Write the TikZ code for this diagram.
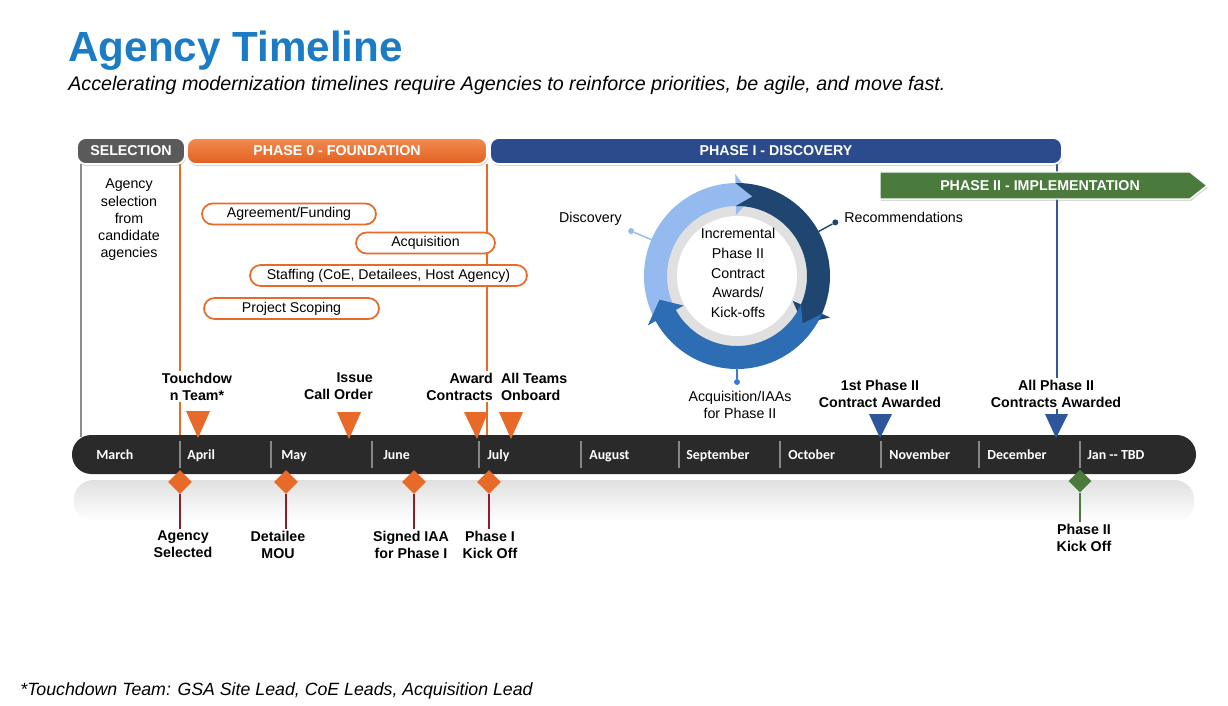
\documentclass[tikz,border=0pt]{standalone}
\usepackage{fontspec}
\setmainfont{Liberation Sans}
\newfontfamily\monthfont{Carlito}
\usetikzlibrary{shapes.geometric,shadows,calc}

\definecolor{titleblue}{RGB}{27,123,196}
\definecolor{orangeC}{RGB}{232,106,40}
\definecolor{orangeTop}{RGB}{242,140,82}
\definecolor{orangeBot}{RGB}{226,96,30}
\definecolor{selgray}{RGB}{90,90,90}
\definecolor{pblue}{RGB}{43,75,140}
\definecolor{pgreen}{RGB}{74,122,60}
\definecolor{ringlight}{RGB}{148,186,240}
\definecolor{ringnavy}{RGB}{31,70,112}
\definecolor{ringmid}{RGB}{44,109,179}
\definecolor{diskgray}{RGB}{224,224,224}
\definecolor{barC}{RGB}{42,42,42}
\definecolor{divC}{RGB}{135,135,135}
\definecolor{stemred}{RGB}{143,29,44}
\definecolor{trib}{RGB}{47,85,156}
\definecolor{callmid}{RGB}{58,120,220}
\definecolor{vgray}{RGB}{140,140,140}

\newcommand\ringseg[3]{%
  \fill[#1] ($(C)+(#2:93)$) arc[start angle=#2, end angle=#3, radius=93]
    -- ($(C)+(#3:102)$) -- ($(C)+(#3+12:81)$) -- ($(C)+(#3:61)$)
    -- ($(C)+(#3:70)$) arc[start angle=#3, end angle=#2, radius=70]
    -- ($(C)+(#2+12:81)$) -- cycle;}

\begin{document}
\begin{tikzpicture}[x=0.02cm,y=-0.02cm,
  phasebar/.style={rounded corners=5pt, draw=white, line width=1pt, text=white,
     font=\bfseries\fontsize{8.1}{10}\selectfont, minimum height=0.52cm, inner sep=0pt,
     drop shadow={opacity=0.3, shadow xshift=0.5pt, shadow yshift=-1.2pt}},
  pill/.style={draw=orangeC, line width=1pt, fill=white, rounded corners=6pt,
     minimum height=0.42cm, inner sep=0pt, font=\fontsize{8.05}{10}\selectfont},
  body/.style={font=\fontsize{8.1}{9.8}\selectfont, align=center, inner sep=0pt},
  ms/.style={font=\bfseries\fontsize{8.1}{9.6}\selectfont, fill=white, inner sep=1pt},
  month/.style={font=\monthfont\bfseries\fontsize{7.9}{9}\selectfont, text=white, anchor=base west, inner sep=0pt},
  divline/.style={draw=divC, line width=0.8pt},
  otri/.style={fill=orangeC},
  btri/.style={fill=trib},
  odia/.style={diamond, fill=orangeC, minimum size=0.48cm, inner sep=0pt},
  gdia/.style={diamond, fill=pgreen, minimum size=0.46cm, inner sep=0pt},
  stem/.style={draw=stemred, line width=0.7pt},
  callout/.style={line width=0.8pt},
  cdot/.style={circle, inner sep=0pt, minimum size=0.12cm}
]
\useasboundingbox (0,0) rectangle (1228,706);

% title
\node[anchor=base west, inner sep=0pt, text=titleblue, font=\bfseries\fontsize{24}{28}\selectfont] (title) at (68,62) {Agency Timeline};
\node[anchor=base west, inner sep=0pt, font=\itshape\fontsize{11.2}{13}\selectfont] (subtitle) at (68,91) {Accelerating modernization timelines require Agencies to reinforce priorities, be agile, and move fast.};

% vertical phase lines
\coordinate (vg1) at (81,164); \coordinate (vg2) at (81,437);
\coordinate (vo1) at (180,164); \coordinate (vo2) at (180,437);
\coordinate (vo3) at (487,164); \coordinate (vo4) at (487,437);
\coordinate (vb1) at (1057,164); \coordinate (vb2) at (1057,414);
\draw[vgray, line width=1pt] (vg1) -- (vg2);
\draw[orangeC, line width=1.2pt] (vo1) -- (vo2);
\draw[orangeC, line width=1.2pt] (vo3) -- (vo4);
\draw[trib, line width=1.2pt] (vb1) -- (vb2);

% phase bars
\node[phasebar, fill=selgray, minimum width=2.16cm] (sel) at (131,151) {SELECTION};
\node[phasebar, top color=orangeTop, bottom color=orangeBot, minimum width=6cm] (p0) at (337,151) {PHASE 0 - FOUNDATION};
\node[phasebar, fill=pblue, minimum width=11.44cm] (p1) at (776,151) {PHASE I - DISCOVERY};
\fill[pgreen, draw=white, line width=0.8pt, drop shadow={opacity=0.3, shadow xshift=0.5pt, shadow yshift=-1.2pt}]
  (880,172) -- (1190,172) -- (1207,185.5) -- (1190,199) -- (880,199) -- cycle;
\node[text=white, font=\bfseries\fontsize{8.1}{10}\selectfont, inner sep=0pt] (p2) at (1040,185.5) {PHASE II - IMPLEMENTATION};

% selection text
\node[body] (seltext) at (129,220) {Agency\\selection\\from\\candidate\\agencies};

% pills
\node[pill, minimum width=3.48cm] (pa) at (289,214) {Agreement/Funding};
\node[pill, minimum width=2.78cm] (pb) at (425.5,243) {Acquisition};
\node[pill, minimum width=5.54cm] (pc) at (388.5,275.5) {Staffing (CoE, Detailees, Host Agency)};
\node[pill, minimum width=3.5cm] (pd) at (291.5,308.5) {Project Scoping};

% ring
\coordinate (C) at (737,276);
\fill[diskgray] (C) circle[radius=75];
\fill[white] (C) circle[radius=60];
\ringseg{ringlight}{-209}{-91}
\ringseg{ringnavy}{-91}{24}
\ringseg{ringmid}{24}{151}
\node[body, font=\fontsize{8.1}{11.3}\selectfont] (center) at (738,273) {Incremental\\Phase II\\Contract\\Awards/\\Kick-offs};

% callouts
\node[cdot, fill=ringlight] (dd) at ($(C)+(-157:115)$) {};
\coordinate (rd) at ($(C)+(-157:92)$);
\draw[callout, ringlight] (dd) -- (rd);
\node[body, anchor=east] (disc) at (622,219) {Discovery};

\node[cdot, fill=ringnavy] (dr) at ($(C)+(-28.6:112)$) {};
\coordinate (rr) at ($(C)+(-28.6:92)$);
\draw[callout, ringnavy] (dr) -- (rr);
\node[body, anchor=west] (rec) at (844,217) {Recommendations};

\node[cdot, fill=callmid] (da) at ($(C)+(90:106)$) {};
\coordinate (ra) at ($(C)+(90:92)$);
\draw[callout, callmid] (da) -- (ra);
\node[body] (acq) at (740,405) {Acquisition/IAAs\\for Phase II};

% reflection & bar
\shade[top color=black!12, bottom color=white, rounded corners=11pt] (74,480) rectangle (1194,522);
\fill[barC, rounded corners=11pt] (72,435) rectangle (1196,474);
\foreach \x in {180,271,372,479,581,679,780,881,979,1080}
  \draw[divline] (\x,441) -- (\x,468);
\node[month] (m1) at (96,459) {March};
\node[month] (m2) at (187,459) {April};
\node[month] (m3) at (281,459) {May};
\node[month] (m4) at (383,459) {June};
\node[month] (m5) at (487,459) {July};
\node[month] (m6) at (589,459) {August};
\node[month] (m7) at (686,459) {September};
\node[month] (m8) at (788,459) {October};
\node[month] (m9) at (889,459) {November};
\node[month] (m10) at (987,459) {December};
\node[month] (m11) at (1087,459) {Jan -{}- TBD};

% triangles above
\fill[otri] (186,411) -- (210,411) -- (198,438) -- cycle;
\fill[otri] (337,412) -- (361,412) -- (349,439) -- cycle;
\fill[otri] (464,412) -- (488,412) -- (477,439) -- cycle;
\fill[otri] (499,412) -- (523,412) -- (511,439) -- cycle;
\fill[btri] (869,414) -- (892,414) -- (880,438) -- cycle;
\fill[btri] (1045,414) -- (1068,414) -- (1056,438) -- cycle;

% labels above
\node[ms, align=center] (lt) at (197,386.5) {Touchdow\\n Team*};
\node[ms, align=right, anchor=east] (li) at (375,386.5) {Issue\\Call Order};
\node[ms, align=right, anchor=east] (law) at (495,386.5) {Award\\Contracts};
\node[ms, align=left, anchor=west] (lal) at (499,386.5) {All Teams\\Onboard};
\node[ms, align=center] (l1p2) at (880,393.5) {1st Phase II\\Contract Awarded};
\node[ms, align=center] (lap2) at (1056,393.5) {All Phase II\\Contracts Awarded};

% diamonds and stems
\node[ms, align=center] (bA) at (183,544.5) {Agency\\Selected};
\node[ms, align=center] (bD) at (278,544.5) {Detailee\\MOU};
\node[ms, align=center] (bS) at (411,544.5) {Signed IAA\\for Phase I};
\node[ms, align=center] (bP) at (490,544.5) {Phase I\\Kick Off};
\node[ms, align=center] (bG) at (1084,537.5) {Phase II\\Kick Off};
\node[odia] (dA) at (180,482) {};
\node[odia] (dD) at (286,482) {};
\node[odia] (dS) at (414,482) {};
\node[odia] (dP) at (489,482) {};
\node[gdia] (dG) at (1080,481) {};
\draw[stem] (dA.south) -- (dA.south |- bA.north);
\draw[stem] (dD.south) -- (dD.south |- bD.north);
\draw[stem] (dS.south) -- (dS.south |- bS.north);
\draw[stem] (dP.south) -- (dP.south |- bP.north);
\draw[pgreen, line width=0.7pt] (dG.south) -- (dG.south |- bG.north);

% footnote
\node[anchor=base west, inner sep=0pt, font=\itshape\fontsize{10.1}{12}\selectfont] (foot) at (20,695) {*Touchdown Team: GSA Site Lead, CoE Leads, Acquisition Lead};
\end{tikzpicture}
\end{document}
